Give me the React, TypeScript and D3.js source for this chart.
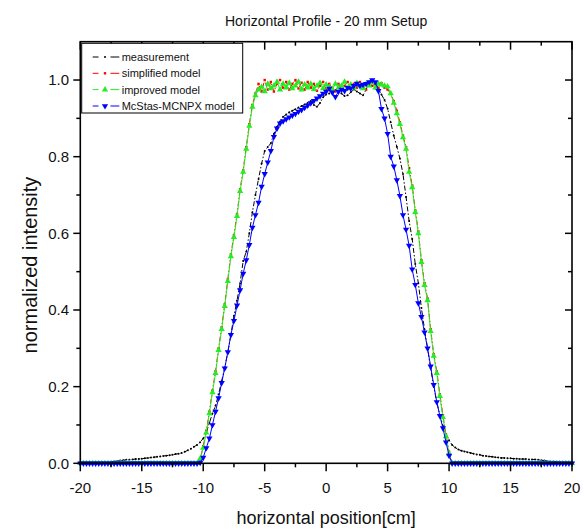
import React from 'react';
import * as d3 from 'd3';

// sample positions, rows of 8 (2 cm per row)
const positions = [
  -20, -19.75, -19.5, -19.25, -19, -18.75, -18.5, -18.25,
  -18, -17.75, -17.5, -17.25, -17, -16.75, -16.5, -16.25,
  -16, -15.75, -15.5, -15.25, -15, -14.75, -14.5, -14.25,
  -14, -13.75, -13.5, -13.25, -13, -12.75, -12.5, -12.25,
  -12, -11.75, -11.5, -11.25, -11, -10.75, -10.5, -10.25,
  -10, -9.75, -9.5, -9.25, -9, -8.75, -8.5, -8.25,
  -8, -7.75, -7.5, -7.25, -7, -6.75, -6.5, -6.25,
  -6, -5.75, -5.5, -5.25, -5, -4.75, -4.5, -4.25,
  -4, -3.75, -3.5, -3.25, -3, -2.75, -2.5, -2.25,
  -2, -1.75, -1.5, -1.25, -1, -0.75, -0.5, -0.25,
  0, 0.25, 0.5, 0.75, 1, 1.25, 1.5, 1.75,
  2, 2.25, 2.5, 2.75, 3, 3.25, 3.5, 3.75,
  4, 4.25, 4.5, 4.75, 5, 5.25, 5.5, 5.75,
  6, 6.25, 6.5, 6.75, 7, 7.25, 7.5, 7.75,
  8, 8.25, 8.5, 8.75, 9, 9.25, 9.5, 9.75,
  10, 10.25, 10.5, 10.75, 11, 11.25, 11.5, 11.75,
  12, 12.25, 12.5, 12.75, 13, 13.25, 13.5, 13.75,
  14, 14.25, 14.5, 14.75, 15, 15.25, 15.5, 15.75,
  16, 16.25, 16.5, 16.75, 17, 17.25, 17.5, 17.75,
  18, 18.25, 18.5, 18.75, 19, 19.25, 19.5, 19.75,
  20,
];

const measurement = [
  null, null, null, null, null, null, null, null,
  null, null, 0.004, 0.005, 0.006, 0.007, 0.008, 0.009,
  0.009, 0.01, 0.011, 0.011, 0.012, 0.013, 0.014, 0.015,
  0.016, 0.017, 0.018, 0.019, 0.02, 0.021, 0.022, 0.024,
  0.025, 0.027, 0.03, 0.034, 0.038, 0.043, 0.048, 0.055,
  0.065, 0.08, 0.105, 0.13, 0.15, 0.18, 0.215, 0.25,
  0.29, 0.335, 0.385, 0.425, 0.47, 0.528, 0.552, 0.6,
  0.655, 0.7, 0.742, 0.782, 0.815, 0.825, 0.835, 0.86,
  0.878, 0.892, 0.904, 0.91, 0.916, 0.92, 0.924, 0.928,
  0.932, 0.936, 0.94, 0.945, 0.935, 0.93, 0.94, 0.955,
  0.962, 0.965, 0.97, 0.974, 0.968, 0.965, 0.958, 0.96,
  0.968, 0.975, 0.97, 0.965, 0.96, 0.975, 0.995, 1.0,
  0.99, 0.978, 0.962, 0.948, 0.925, 0.89, 0.855, 0.826,
  0.795, 0.755, 0.695, 0.632, 0.585, 0.52, 0.47, 0.405,
  0.35, 0.3, 0.248, 0.2, 0.16, 0.125, 0.098, 0.076,
  0.06, 0.048, 0.041, 0.036, 0.033, 0.031, 0.029, 0.027,
  0.025, 0.023, 0.022, 0.02, 0.019, 0.018, 0.017, 0.016,
  0.015, 0.014, 0.014, 0.013, 0.013, 0.012, 0.012, 0.011,
  0.011, 0.011, 0.01, 0.01, 0.01, 0.009, 0.008, 0.007,
  0.006, 0.005, 0.005, 0.004, 0.004, 0.003, null, null,
  null,
];

const simplifiedModel = [
  0, 0, 0, 0, 0, 0, 0, 0,
  0, 0, 0, 0, 0, 0, 0, 0,
  0, 0, 0, 0, 0, 0, 0, 0,
  0, 0, 0, 0, 0, 0, 0, 0,
  0, 0, 0, 0, 0, 0, 0, 0.01,
  0.045, 0.085, 0.135, 0.19, 0.24, 0.3, 0.355, 0.415,
  0.48, 0.545, 0.595, 0.65, 0.715, 0.765, 0.825, 0.885,
  0.935, 0.965, 0.99, 0.97, 1.0, 0.975, 0.995, 0.97,
  0.99, 1.0, 0.98, 0.995, 0.975, 0.99, 1.0, 0.978,
  0.993, 0.975, 0.995, 0.98, 0.99, 0.972, 0.985, 0.995,
  0.975, 0.99, 0.98, 0.97, 0.99, 0.975, 0.985, 0.995,
  0.978, 0.99, 0.98, 0.995, 0.985, 0.975, 0.995, 0.985,
  0.99, 0.98, 0.992, 0.98, 0.975, 0.965, 0.945, 0.92,
  0.89, 0.855, 0.825, 0.77, 0.725, 0.66, 0.605, 0.53,
  0.47, 0.43, 0.35, 0.285, 0.24, 0.18, 0.125, 0.075,
  0.03, 0, 0, 0, 0, 0, 0, 0,
  0, 0, 0, 0, 0, 0, 0, 0,
  0, 0, 0, 0, 0, 0, 0, 0,
  0, 0, 0, 0, 0, 0, 0, 0,
  0, 0, 0, 0, 0, 0, 0, 0,
  0,
];

const improvedModel = [
  0, 0, 0, 0, 0, 0, 0, 0,
  0, 0, 0, 0, 0, 0, 0, 0,
  0, 0, 0, 0, 0, 0, 0, 0,
  0, 0, 0, 0, 0, 0, 0, 0,
  0, 0, 0, 0, 0, 0, 0, 0.012,
  0.04, 0.08, 0.13, 0.185, 0.235, 0.295, 0.35, 0.41,
  0.475, 0.54, 0.59, 0.645, 0.71, 0.76, 0.82, 0.88,
  0.93, 0.96, 0.975, 0.982, 0.97, 0.99, 0.978, 0.985,
  0.995, 0.975, 0.99, 0.98, 0.992, 0.978, 0.985, 0.995,
  0.975, 0.988, 0.98, 0.99, 0.976, 0.985, 0.992, 0.978,
  0.988, 0.982, 0.975, 0.99, 0.98, 0.985, 0.995, 0.978,
  0.988, 0.98, 0.992, 0.985, 0.978, 0.99, 0.985, 0.995,
  0.98, 0.99, 0.988, 0.985, 0.983, 0.965, 0.94, 0.913,
  0.885, 0.85, 0.82, 0.76, 0.72, 0.655, 0.6, 0.525,
  0.465, 0.425, 0.345, 0.28, 0.235, 0.175, 0.12, 0.07,
  0.025, 0, 0, 0, 0, 0, 0, 0,
  0, 0, 0, 0, 0, 0, 0, 0,
  0, 0, 0, 0, 0, 0, 0, 0,
  0, 0, 0, 0, 0, 0, 0, 0,
  0, 0, 0, 0, 0, 0, 0, 0,
  0,
];

const mcstasModel = [
  0, 0, 0, 0, 0, 0, 0, 0,
  0, 0, 0, 0, 0, 0, 0, 0,
  0, 0, 0, 0, 0, 0, 0, 0,
  0, 0, 0, 0, 0, 0, 0, 0,
  0, 0, 0, 0, 0, 0, 0, 0.002,
  0.015, 0.04, 0.065, 0.1, 0.135, 0.17, 0.21, 0.248,
  0.29, 0.335, 0.372, 0.412, 0.452, 0.495, 0.53, 0.57,
  0.615, 0.648, 0.68, 0.722, 0.755, 0.785, 0.815, 0.852,
  0.874, 0.887, 0.893, 0.898, 0.903, 0.908, 0.912, 0.918,
  0.922, 0.928, 0.934, 0.94, 0.946, 0.952, 0.958, 0.965,
  0.97, 0.978, 0.968, 0.956, 0.97, 0.975, 0.972, 0.98,
  0.978, 0.985, 0.991, 0.985, 0.988, 0.99, 0.995, 1.0,
  0.995, 0.972, 0.925, 0.9, 0.86, 0.8, 0.775, 0.739,
  0.698, 0.648, 0.61, 0.568, 0.506, 0.466, 0.418, 0.382,
  0.342, 0.3, 0.253, 0.205, 0.16, 0.124, 0.092, 0.055,
  0.02, 0, 0, 0, 0, 0, 0, 0,
  0, 0, 0, 0, 0, 0, 0, 0,
  0, 0, 0, 0, 0, 0, 0, 0,
  0, 0, 0, 0, 0, 0, 0, 0,
  0, 0, 0, 0, 0, 0, 0, 0,
  0,
];

const seriesNames = ['measurement', 'simplified model', 'improved model', 'McStas-MCNPX model'];
const xTickValues = [-20, -15, -10, -5, 0, 5, 10, 15, 20];
const xTickLabels = ['-20', '-15', '-10', '-5', '0', '5', '10', '15', '20'];
const yTickValues = [0, 0.2, 0.4, 0.6, 0.8, 1.0];
const yTickLabels = ['0.0', '0.2', '0.4', '0.6', '0.8', '1.0'];
const xMinorTicks = [-17.5, -12.5, -7.5, -2.5, 2.5, 7.5, 12.5, 17.5];
const yMinorTicks = [0.1, 0.3, 0.5, 0.7, 0.9];

const FONT = '"Liberation Sans", Arial, sans-serif';
const L = 80.3, R = 572, T = 41.7, B = 463.3;

type Style = { color: string; dash: string; marker: 'dot' | 'sq' | 'up' | 'down' };
const styles: Style[] = [
  { color: '#000000', dash: '5,2,1.5,2', marker: 'dot' },
  { color: '#ff0000', dash: '5,2,1.5,2', marker: 'sq' },
  { color: '#22ee22', dash: '', marker: 'up' },
  { color: '#0000ff', dash: '', marker: 'down' },
];

function Marker({ kind, cx, cy, color }: { kind: string; cx: number; cy: number; color: string }) {
  if (kind === 'dot') return <circle cx={cx} cy={cy} r={1} fill={color} />;
  if (kind === 'sq') return <rect x={cx - 1.2} y={cy - 1.2} width={2.4} height={2.4} fill={color} />;
  const path = d3.symbol(d3.symbolTriangle, 17)() as string;
  return (
    <path d={path} fill={color}
      transform={`translate(${cx},${cy})${kind === 'down' ? ' rotate(180)' : ''}`} />
  );
}

export default function App() {
  const x = d3.scaleLinear().domain([-20, 20]).range([L, R]);
  const y = d3.scaleLinear().domain([0, 1.1]).range([B, T]);
  const allSeries = [measurement, simplifiedModel, improvedModel, mcstasModel];

  const line = d3.line<[number, number | null]>()
    .defined(d => d[1] != null)
    .x(d => x(d[0]))
    .y(d => y(d[1] as number));

  const legendBaselines = [61, 77.3, 93.6, 110];

  return (
    <svg width={584} height={530} style={{ position: 'absolute', left: 0, top: 0, background: '#fff' }}
      fontFamily={FONT}>
      <rect x={0} y={0} width={584} height={530} fill="#fff" />
      <text x={(L + R) / 2} y={26} textAnchor="middle" fontSize={14} fill="#111">
        Horizontal Profile - 20 mm Setup
      </text>

      {/* series */}
      {allSeries.map((vals, si) => {
        const st = styles[si];
        const pts = positions.map((p, i) => [p, vals[i]] as [number, number | null]);
        return (
          <g key={si}>
            <path d={line(pts) as string} fill="none" stroke={st.color} strokeWidth={1}
              strokeDasharray={st.dash || undefined} />
            {pts.filter(d => d[1] != null).map((d, i) => (
              <Marker key={i} kind={st.marker} cx={x(d[0])} cy={y(d[1] as number)} color={st.color} />
            ))}
          </g>
        );
      })}

      {/* frame */}
      <rect x={L} y={T} width={R - L} height={B - T} fill="none" stroke="#000" strokeWidth={1.6} />

      {/* x ticks */}
      {xTickValues.map((v, i) => (
        <g key={'xt' + i}>
          <line x1={x(v)} x2={x(v)} y1={B} y2={B + 8} stroke="#000" strokeWidth={1.5} />
          <line x1={x(v)} x2={x(v)} y1={T} y2={T + 8} stroke="#000" strokeWidth={1.5} />
          <text x={x(v)} y={492.5} textAnchor="middle" fontSize={15} fill="#111">{xTickLabels[i]}</text>
        </g>
      ))}
      {xMinorTicks.map((v, i) => (
        <g key={'xm' + i}>
          <line x1={x(v)} x2={x(v)} y1={B} y2={B + 4} stroke="#000" strokeWidth={1.5} />
          <line x1={x(v)} x2={x(v)} y1={T} y2={T + 4} stroke="#000" strokeWidth={1.5} />
        </g>
      ))}
      {/* y ticks */}
      {yTickValues.map((v, i) => (
        <g key={'yt' + i}>
          <line x1={L - 7} x2={L} y1={y(v)} y2={y(v)} stroke="#000" strokeWidth={1.5} />
          <line x1={R - 7} x2={R} y1={y(v)} y2={y(v)} stroke="#000" strokeWidth={1.5} />
          <text x={69} y={y(v) + 5.3} textAnchor="end" fontSize={15} fill="#111">{yTickLabels[i]}</text>
        </g>
      ))}
      {yMinorTicks.map((v, i) => (
        <g key={'ym' + i}>
          <line x1={L - 4} x2={L} y1={y(v)} y2={y(v)} stroke="#000" strokeWidth={1.5} />
          <line x1={R - 4} x2={R} y1={y(v)} y2={y(v)} stroke="#000" strokeWidth={1.5} />
        </g>
      ))}

      {/* axis labels */}
      <text x={(L + R) / 2} y={524} textAnchor="middle" fontSize={18} fill="#111">horizontal position[cm]</text>
      <text transform="translate(37,265) rotate(-90)" textAnchor="middle" fontSize={20} fill="#111">
        normalized intensity
      </text>

      {/* legend */}
      <rect x={81.7} y={43.3} width={161} height={69.7} fill="#fff" stroke="#000" strokeWidth={1} />
      {seriesNames.map((name, i) => {
        const st = styles[i];
        const ly = legendBaselines[i] - 4;
        return (
          <g key={'lg' + i}>
            <line x1={92.7} x2={98.5} y1={ly} y2={ly} stroke={st.color} strokeWidth={1} />
            <line x1={110.5} x2={119.3} y1={ly} y2={ly} stroke={st.color} strokeWidth={1} />
            <Marker kind={st.marker} cx={105} cy={ly} color={st.color} />
            <text x={121.7} y={legendBaselines[i]} fontSize={11} fill="#111">{name}</text>
          </g>
        );
      })}
    </svg>
  );
}
